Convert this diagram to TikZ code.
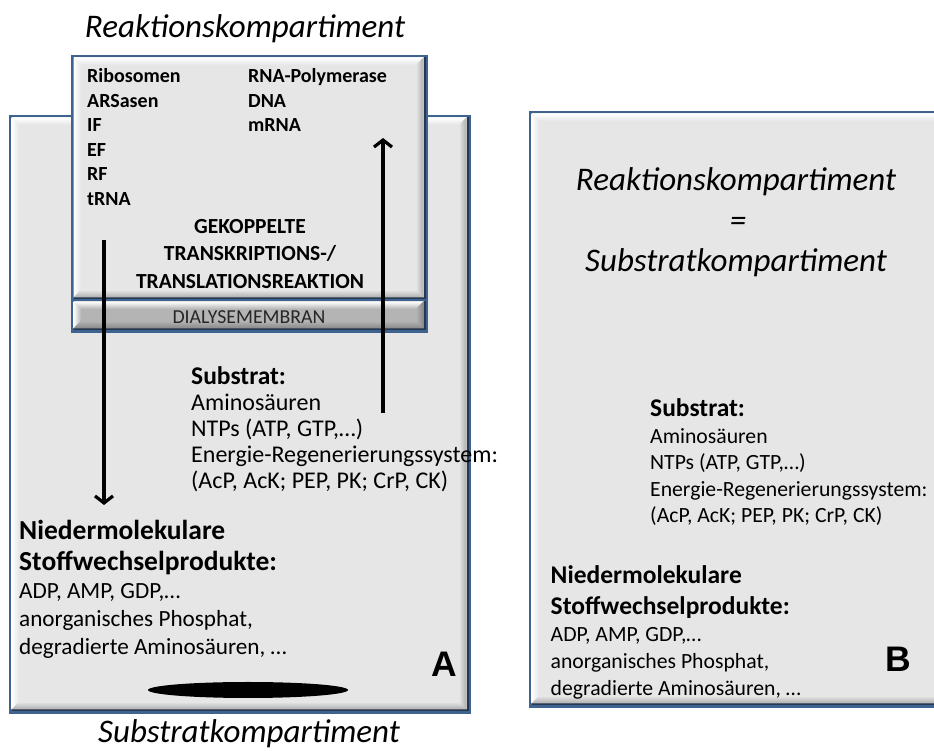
\documentclass[tikz,border=0pt]{standalone}
\usepackage{fontspec}
\setmainfont{Carlito}
\newfontfamily\letterfont{Liberation Sans}
\usetikzlibrary{arrows.meta,shapes.geometric}

\definecolor{frameblue}{HTML}{3E6391}
\definecolor{framedark}{HTML}{26384F}
\definecolor{face}{HTML}{E6E6E6}
\definecolor{membraneface}{HTML}{B4B4B4}

% framed panel with a bevelled edge: lower-left x, y, upper-right x, y, face colour
\newcommand\bevelbox[5]{%
  \fill[frameblue] (#1,#2) rectangle (#3,#4);
  \fill[framedark] (#1+2.5,#2+2.5) rectangle (#3-2.5,#4-2.5);
  \fill[#5] (#1+2.5,#2+4.5) rectangle (#3-4.5,#4-2.5);
  \shade[left color=white, right color=#5]
    (#1+2.5,#2+4.5) -- (#1+2.5,#4-2.5) -- (#1+10,#4-10) -- (#1+10,#2+12) -- cycle;
  \shade[top color=white, bottom color=#5]
    (#1+2.5,#4-2.5) -- (#3-4.5,#4-2.5) -- (#3-12,#4-10) -- (#1+10,#4-10) -- cycle;
  \shade[left color=#5, right color=#5!75!black]
    (#3-4.5,#4-2.5) -- (#3-4.5,#2+4.5) -- (#3-12,#2+12) -- (#3-12,#4-10) -- cycle;
  \shade[top color=#5, bottom color=#5!75!black]
    (#1+2.5,#2+4.5) -- (#3-4.5,#2+4.5) -- (#3-12,#2+12) -- (#1+10,#2+12) -- cycle;
}

\begin{document}
\begin{tikzpicture}[x=1pt,y=1pt,
  titletext/.style={font=\fontsize{33}{40}\selectfont\itshape, inner sep=0, anchor=base},
  listitem/.style={font=\fontsize{20}{24}\selectfont\bfseries, inner sep=0, anchor=base west},
  reaction/.style={font=\fontsize{21.5}{26}\selectfont\bfseries, inner sep=0, anchor=base},
  membranetext/.style={font=\fontsize{19.8}{23}\selectfont, text=black!85, inner sep=0, anchor=base},
  headtext/.style={font=\fontsize{25.5}{30}\selectfont\bfseries, inner sep=0, anchor=base west},
  bodytext/.style={font=\fontsize{21.7}{26}\selectfont, inner sep=0, anchor=base west},
  bodytextA/.style={bodytext, font=\fontsize{24}{28}\selectfont},
  bodytextAn/.style={bodytext, font=\fontsize{23.2}{28}\selectfont},
  bighead/.style={font=\fontsize{25.5}{31}\selectfont\bfseries, inner sep=0, anchor=base west},
  bigheadA/.style={bighead, font=\fontsize{27.5}{32}\selectfont\bfseries},
  panelletter/.style={font=\letterfont\bfseries\fontsize{35.5}{40}\selectfont, inner sep=0, anchor=base},
  flow/.style={line width=3.2pt, -{Straight Barb[length=7pt,width=18pt]}}
]
\useasboundingbox (0,0) rectangle (934,751);
\clip (0,0) rectangle (934,751);
\fill[white] (0,0) rectangle (934,751);

% substrate compartment (A) and combined compartment (B)
\bevelbox{9}{37}{471}{636}{face}
\bevelbox{529}{43}{950}{640}{face}

% reaction compartment with its dialysis membrane
\bevelbox{71}{449}{428}{696}{face}
\bevelbox{71}{418}{428}{452}{membraneface}

% ---------- panel A ----------
\node[titletext] (reakA) at (245,713) {Reaktionskompartiment};

\foreach \t [count=\i] in {Ribosomen, ARSasen, IF, EF, RF, tRNA}
  \node[listitem] (left-\i) at (87,{668-(\i-1)*24.5}) {\t};
\foreach \t [count=\i] in {RNA-Polymerase, DNA, mRNA}
  \node[listitem] (right-\i) at (248,{668-(\i-1)*24.5}) {\t};

\node[reaction] (gek1) at (250,517.3) {GEKOPPELTE};
\node[reaction] (gek2) at (250,490) {TRANSKRIPTIONS-/};
\node[reaction] (gek3) at (250,462.3) {TRANSLATIONSREAKTION};

\node[membranetext] (membran) at (249,427) {DIALYSEMEMBRAN};

\node[headtext] (subA) at (191,366) {Substrat:};
\foreach \t [count=\i] in {Aminosäuren, {NTPs (ATP, GTP,…)}, Energie-Regenerierungssystem:, {(AcP, AcK; PEP, PK; CrP, CK)}}
  \node[bodytextA] (subA-\i) at (191,{366-\i*26}) {\t};

\node[bigheadA] (nmA1) at (19,211) {Niedermolekulare};
\node[bigheadA] (nmA2) at (19,180) {Stoffwechselprodukte:};
\foreach \t [count=\i] in {{ADP, AMP, GDP,…}, {anorganisches Phosphat,}, {degradierte Aminosäuren, …}}
  \node[bodytextAn] (nmA-\i) at (19,{180-\i*28}) {\t};

\node[panelletter] (letterA) at (444,74.3) {A};
\node[ellipse, fill=black, minimum width=200, minimum height=16, inner sep=0] (stirrer) at (248,61) {};
\node[titletext] (subkA) at (249,8.5) {Substratkompartiment};

% exchange across the membrane
\coordinate (outTop) at (104,511);
\coordinate (outEnd) at (104,246);
\coordinate (inStart) at (383,338);
\coordinate (inEnd) at (383,613);
\draw[flow] (outTop) -- (outEnd);
\draw[flow] (inStart) -- (inEnd);

% ---------- panel B ----------
\node[titletext] (reakB) at (736,560) {Reaktionskompartiment};
\node[titletext] (eqB) at (738,519) {=};
\node[titletext] (subkB) at (736,479) {Substratkompartiment};

\node[headtext] (subB) at (650,334) {Substrat:};
\foreach \t [count=\i] in {Aminosäuren, {NTPs (ATP, GTP,…)}, Energie-Regenerierungssystem:, {(AcP, AcK; PEP, PK; CrP, CK)}}
  \node[bodytext] (subB-\i) at (650,{334-\i*26.5}) {\t};

\node[bighead] (nmB1) at (550.5,167) {Niedermolekulare};
\node[bighead] (nmB2) at (550.5,136) {Stoffwechselprodukte:};
\foreach \t [count=\i] in {{ADP, AMP, GDP,…}, {anorganisches Phosphat,}, {degradierte Aminosäuren, …}}
  \node[bodytext] (nmB-\i) at (550.5,{136-\i*27}) {\t};

\node[panelletter] (letterB) at (898,79.3) {B};
\end{tikzpicture}
\end{document}
